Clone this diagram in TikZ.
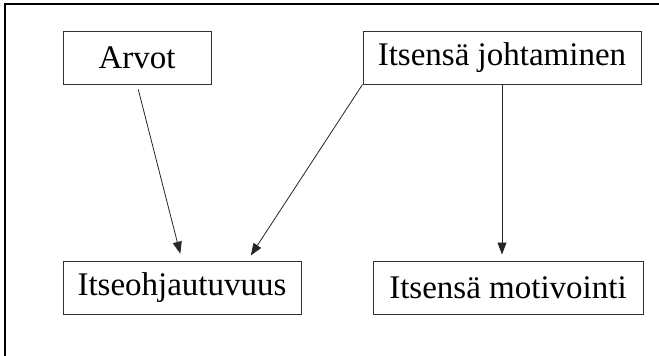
\documentclass[tikz,border=0pt]{standalone}
\usepackage{fontspec}
\setmainfont{Liberation Serif}
\usetikzlibrary{arrows.meta,calc}
\begin{document}
\begin{tikzpicture}[x=1pt,y=1pt,
  box/.style={draw=black!80,line width=1pt,minimum height=53pt,inner sep=0pt,font=\fontsize{33}{36}\selectfont},
  arr/.style={draw=black!85,line width=0.8pt,-{Triangle[length=12pt,width=9pt]}}]
\useasboundingbox (0,0) rectangle (659,-356);
\fill[white] (0,0) rectangle (659,-356);
\draw[line width=2pt] (5,-356) -- (5,-4) -- (659,-4);
\node[box,minimum width=148pt] (arvot) at (137,-57.5) {Arvot};
\node[box,minimum width=278pt] (joht) at (502,-57.5) {Itsensä johtaminen};
\node[box,minimum width=238pt] (itse) at (182,-287.5) {Itseohjautuvuus};
\node[box,minimum width=270pt] (moti) at (508,-287.5) {Itsensä motivointi};
\draw[arr,shorten <=5pt,shorten >=7pt] (arvot.south) -- (itse.north);
\draw[arr,shorten >=6pt] (joht.south west) -- ($(itse.north west)+(185,0)$);
\draw[arr,shorten >=6pt] (joht.south) -- (joht.south |- moti.north);
\end{tikzpicture}
\end{document}
